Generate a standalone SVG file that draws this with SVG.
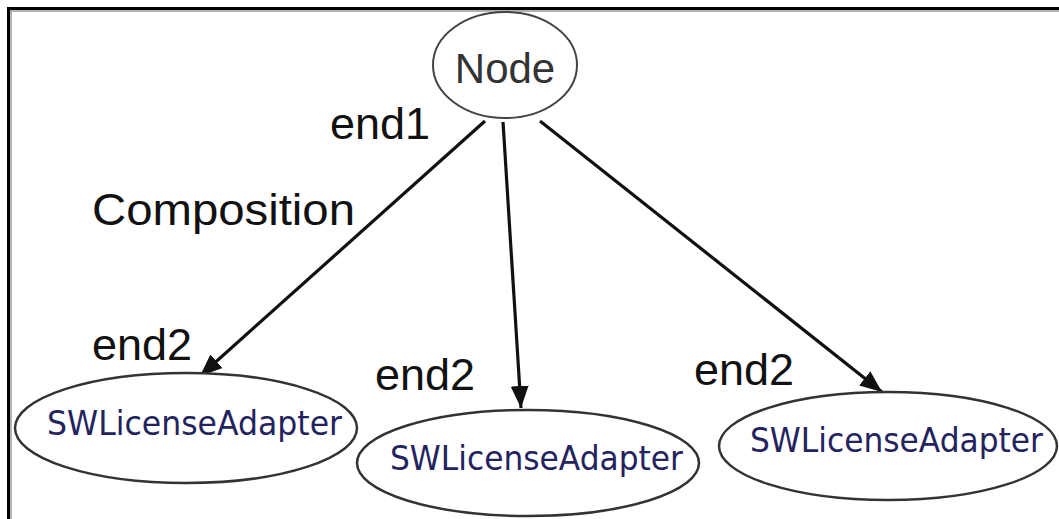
<svg xmlns="http://www.w3.org/2000/svg" width="1059" height="519" viewBox="0 0 1059 519">
<style>
.node ellipse{fill:#fff;stroke:#333;stroke-width:2.5}
.lbl{font-family:"Liberation Sans",Arial,sans-serif;font-size:45px;fill:#111}
.sw{font-family:"DejaVu Sans","Liberation Sans",sans-serif;font-size:33px;fill:#23235e}
.edge{stroke:#111;stroke-width:3.2;fill:none;marker-end:url(#ah)}
</style>
<defs>
<marker id="ah" markerUnits="userSpaceOnUse" markerWidth="24" markerHeight="20" refX="22" refY="9" orient="auto">
<path d="M0,0 L22,9 L0,18 Z" fill="#111"/>
</marker>
</defs>
<rect width="1059" height="519" fill="#fff"/>
<path d="M8.5,519 V8.5 H1059" fill="none" stroke="#000" stroke-width="3"/>
<path d="M11,519 V11 H1059" fill="none" stroke="#999" stroke-width="1.5"/>
<g id="connectors">
<line class="edge" x1="485" y1="121" x2="200" y2="376"/>
<line class="edge" x1="503" y1="122" x2="521" y2="408"/>
<line class="edge" x1="540" y1="121" x2="882" y2="392"/>
</g>
<g id="labels">
<text class="lbl" x="330" y="139">end1</text>
<text class="lbl" x="92" y="225" textLength="263" lengthAdjust="spacingAndGlyphs">Composition</text>
<text class="lbl" x="92" y="360">end2</text>
<text class="lbl" x="375" y="390">end2</text>
<text class="lbl" x="694" y="385">end2</text>
</g>
<g id="node" class="node">
<ellipse cx="505" cy="65" rx="72" ry="53" style="stroke:#444;stroke-width:2"/>
<text x="505" y="83" text-anchor="middle" style="font-family:'Liberation Sans',Arial,sans-serif;font-size:42px;fill:#333">Node</text>
</g>
<g id="sw1" class="node">
<ellipse cx="186" cy="428" rx="171" ry="55"/>
<text class="sw" x="47" y="435" textLength="295" lengthAdjust="spacingAndGlyphs">SWLicenseAdapter</text>
</g>
<g id="sw2" class="node">
<ellipse cx="528" cy="463" rx="171" ry="53"/>
<text class="sw" x="390" y="470" textLength="293" lengthAdjust="spacingAndGlyphs">SWLicenseAdapter</text>
</g>
<g id="sw3" class="node">
<ellipse cx="888" cy="446" rx="169" ry="54"/>
<text class="sw" x="750" y="452" textLength="293" lengthAdjust="spacingAndGlyphs">SWLicenseAdapter</text>
</g>
</svg>
